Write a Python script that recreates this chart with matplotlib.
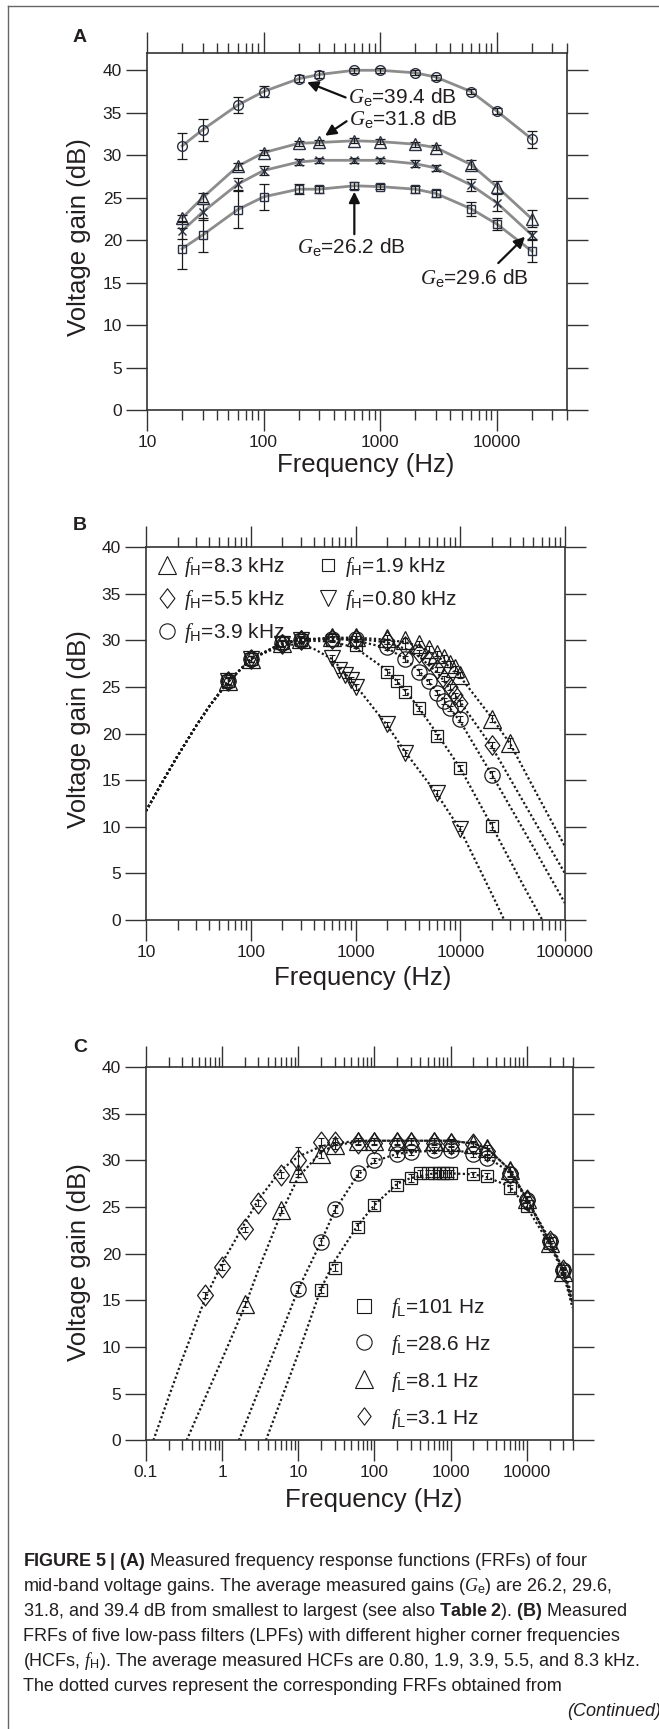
import matplotlib
matplotlib.use('Agg')
import matplotlib.pyplot as plt
from matplotlib.lines import Line2D
from matplotlib.path import Path
from matplotlib.ticker import LogLocator, NullFormatter

plt.rcParams['font.family'] = ['Liberation Sans', 'DejaVu Sans']
plt.rcParams['mathtext.fontset'] = 'custom'
plt.rcParams['mathtext.it'] = 'Liberation Serif:italic'
plt.rcParams['mathtext.rm'] = 'Liberation Sans'
plt.rcParams['mathtext.bf'] = 'Liberation Sans:bold'

# ---------------- panel A: four mid-band gains ----------------
freq_a = [20, 30, 60, 100, 200, 300, 600, 1000, 2000, 3000, 6000, 10000, 20000]
gain_394 = [31.1, 33.0, 35.9, 37.5, 39.0, 39.5, 40.0, 40.0, 39.7, 39.2, 37.5, 35.2, 31.9]
err_394 = [1.5, 1.3, 0.9, 0.7, 0.4, 0.4, 0.3, 0.3, 0.3, 0.3, 0.3, 0.4, 1.0]
gain_318 = [22.6, 25.0, 28.7, 30.3, 31.4, 31.5, 31.7, 31.6, 31.3, 30.9, 28.9, 26.3, 22.5]
err_318 = [0.4, 0.5, 0.4, 0.3, 0.3, 0.3, 0.3, 0.3, 0.3, 0.3, 0.5, 0.7, 1.0]
gain_296 = [21.1, 23.3, 26.6, 28.2, 29.2, 29.4, 29.4, 29.4, 29.0, 28.5, 26.5, 24.4, 20.6]
err_296 = [1.0, 0.9, 0.7, 0.5, 0.3, 0.3, 0.3, 0.3, 0.4, 0.4, 0.7, 1.0, 0.5]
gain_262 = [19.0, 20.6, 23.6, 25.1, 26.0, 26.0, 26.4, 26.3, 26.0, 25.5, 23.7, 21.9, 18.7]
err_262 = [2.4, 2.0, 2.2, 1.5, 0.6, 0.4, 0.4, 0.3, 0.4, 0.4, 0.8, 0.7, 1.3]

# ---------------- panel B: low-pass filters ----------------
fh83_f = [60, 100, 200, 300, 600, 1000, 2000, 3000, 4000, 5000, 6000, 7000, 8000, 9000, 10000, 20000, 30000]
fh83_g = [25.7, 28.0, 29.7, 30.2, 30.4, 30.4, 30.3, 30.0, 29.6, 29.1, 28.6, 28.1, 27.5, 27.0, 26.3, 21.6, 19.0]
fh83_e = [0.4, 0.3, 0.3, 0.3, 0.4, 0.4, 0.3, 0.3, 0.3, 0.3, 0.3, 0.3, 0.3, 0.3, 0.3, 0.4, 0.5]
fh55_f = [60, 100, 200, 300, 600, 1000, 2000, 3000, 4000, 5000, 6000, 7000, 8000, 9000, 10000, 20000]
fh55_g = [25.6, 28.0, 29.6, 30.1, 30.2, 30.2, 29.9, 29.4, 28.7, 27.8, 26.9, 25.9, 25.0, 24.1, 23.3, 18.8]
fh55_e = [0.4, 0.3, 0.3, 0.3, 0.3, 0.3, 0.3, 0.3, 0.3, 0.3, 0.3, 0.3, 0.3, 0.3, 0.3, 0.3]
fh39_f = [60, 100, 200, 300, 600, 1000, 2000, 3000, 4000, 5000, 6000, 7000, 8000, 10000, 20000]
fh39_g = [25.6, 28.0, 29.7, 30.1, 30.2, 30.2, 29.3, 28.0, 26.6, 25.6, 24.4, 23.5, 22.7, 21.6, 15.6]
fh39_e = [0.4, 0.3, 0.3, 0.3, 0.3, 0.3, 0.3, 0.3, 0.3, 0.3, 0.3, 0.3, 0.3, 0.3, 0.4]
fh19_f = [60, 100, 200, 300, 600, 1000, 2000, 2500, 3000, 4000, 6000, 10000, 20000]
fh19_g = [25.6, 28.0, 29.7, 30.1, 30.1, 29.5, 26.6, 25.6, 24.5, 22.7, 19.7, 16.3, 10.1]
fh19_e = [0.4, 0.3, 0.3, 0.3, 0.3, 0.3, 0.3, 0.3, 0.3, 0.3, 0.3, 0.3, 0.4]
fh08_f = [60, 100, 200, 300, 600, 700, 800, 900, 1000, 2000, 3000, 6000, 10000]
fh08_g = [25.6, 28.0, 29.6, 30.0, 28.1, 26.8, 26.3, 25.8, 25.0, 21.0, 17.9, 13.6, 9.8]
fh08_e = [0.4, 0.3, 0.3, 0.3, 0.3, 0.3, 0.3, 0.3, 0.3, 0.3, 0.3, 0.3, 0.3]

# model FRFs (dotted)
mb83_f = [10, 15, 20, 30, 40, 60, 100, 200, 300, 600, 1000, 2000, 3000, 4000, 6000, 10000, 20000, 30000, 50000, 100000]
mb83_g = [11.7, 15.2, 17.6, 20.8, 22.9, 25.5, 28.0, 29.7, 30.1, 30.3, 30.3, 30.1, 29.8, 29.4, 28.4, 26.1, 21.7, 18.9, 14.2, 7.9]
mb55_f = [10, 15, 20, 30, 40, 60, 100, 200, 300, 600, 1000, 2000, 3000, 4000, 6000, 10000, 20000, 50000, 100000]
mb55_g = [11.7, 15.2, 17.6, 20.8, 22.9, 25.5, 28.0, 29.7, 30.1, 30.2, 30.2, 29.8, 29.1, 28.3, 26.6, 23.4, 18.6, 10.8, 5.0]
mb39_f = [10, 15, 20, 30, 40, 60, 100, 200, 300, 600, 1000, 2000, 3000, 4000, 6000, 10000, 20000, 50000, 100000]
mb39_g = [11.7, 15.2, 17.6, 20.8, 22.9, 25.5, 28.0, 29.7, 30.1, 30.2, 30.0, 29.2, 28.0, 26.8, 24.5, 21.3, 15.6, 7.8, 1.8]
mb19_f = [10, 15, 20, 30, 40, 60, 100, 200, 300, 600, 1000, 2000, 3000, 4000, 6000, 10000, 20000, 40000, 60800]
mb19_g = [11.7, 15.2, 17.6, 20.8, 22.9, 25.5, 28.0, 29.7, 30.0, 29.9, 29.2, 26.8, 24.6, 22.8, 20.0, 16.3, 10.1, 3.7, 0.0]
mb08_f = [10, 15, 20, 30, 40, 60, 100, 200, 300, 400, 600, 1000, 2000, 3000, 6000, 10000, 20000, 26300]
mb08_g = [11.7, 15.2, 17.6, 20.8, 22.9, 25.5, 28.0, 29.5, 29.6, 29.1, 28.0, 25.2, 20.9, 18.0, 13.5, 9.7, 2.8, 0.0]

# ---------------- panel C: high-pass filters ----------------
fl31_f = [0.6, 1, 2, 3, 6, 10, 20, 30, 60, 100, 200, 300, 600, 1000, 2000, 3000, 6000, 10000, 20000, 30000]
fl31_g = [15.6, 18.6, 22.6, 25.4, 28.4, 30.0, 32.0, 32.0, 31.9, 31.9, 31.9, 31.9, 31.9, 31.8, 31.7, 31.0, 28.6, 25.8, 21.4, 18.2]
fl31_e = [0.3, 0.3, 0.3, 0.3, 0.3, 1.45, 0.4, 0.4, 0.3, 0.3, 0.3, 0.3, 0.3, 0.3, 0.3, 0.3, 0.3, 0.3, 0.3, 0.3]
fl81_f = [2, 6, 10, 20, 30, 60, 100, 200, 300, 600, 1000, 2000, 3000, 6000, 10000, 20000, 30000]
fl81_g = [14.6, 24.7, 28.6, 30.7, 31.6, 32.1, 32.1, 32.1, 32.1, 32.1, 32.0, 31.8, 31.3, 29.0, 25.9, 21.1, 18.0]
fl81_e = [0.3, 0.3, 0.4, 0.4, 0.4, 0.3, 0.3, 0.3, 0.3, 0.3, 0.3, 0.3, 0.3, 0.3, 0.3, 0.3, 0.3]
fl286_f = [10, 20, 30, 60, 100, 200, 300, 600, 1000, 2000, 3000, 6000, 10000, 20000, 30000]
fl286_g = [16.2, 21.3, 24.8, 28.6, 30.0, 30.7, 30.9, 31.1, 31.1, 30.7, 30.3, 28.5, 25.8, 21.4, 18.3]
fl286_e = [0.4, 0.4, 0.4, 0.4, 0.3, 0.3, 0.3, 0.3, 0.3, 0.3, 0.3, 0.3, 0.3, 0.3, 0.3]
fl101_f = [20, 30, 60, 100, 200, 300, 400, 500, 600, 700, 800, 900, 1000, 2000, 3000, 6000, 10000, 20000, 30000]
fl101_g = [16.1, 18.5, 22.9, 25.2, 27.4, 28.1, 28.6, 28.6, 28.6, 28.6, 28.6, 28.6, 28.6, 28.5, 28.3, 27.0, 25.1, 21.1, 18.1]
fl101_e = [0.3, 0.4, 0.4, 0.4, 0.4, 0.4, 0.4, 0.4, 0.4, 0.4, 0.4, 0.4, 0.4, 0.3, 0.3, 0.4, 0.3, 0.3, 0.3]

mc31_f = [0.125, 0.2, 0.3, 0.6, 1, 2, 3, 6, 10, 20, 30, 60, 100, 1000, 2000, 3000, 6000, 10000, 20000, 30000, 40000]
mc31_g = [0.0, 4.7, 8.7, 15.2, 19.0, 23.3, 25.8, 29.0, 30.4, 31.5, 31.8, 32.1, 32.1, 32.1, 31.8, 31.3, 29.0, 25.9, 21.5, 18.3, 15.5]
mc81_f = [0.342, 0.5, 1, 2, 3, 6, 10, 20, 30, 60, 100, 1000, 2000, 3000, 6000, 10000, 20000, 30000, 40000]
mc81_g = [0.0, 3.1, 8.7, 14.4, 18.3, 24.4, 28.2, 30.9, 31.6, 32.0, 32.1, 32.1, 31.8, 31.3, 29.0, 25.9, 21.3, 18.1, 14.9]
mc286_f = [1.66, 3, 5, 10, 20, 30, 60, 100, 200, 300, 1000, 2000, 3000, 6000, 10000, 20000, 30000, 40000]
mc286_g = [0.0, 5.3, 9.9, 16.2, 21.3, 24.6, 28.4, 29.9, 30.7, 30.9, 31.1, 30.8, 30.4, 28.7, 25.8, 21.3, 18.2, 14.7]
mc101_f = [3.76, 5, 10, 20, 30, 60, 100, 200, 300, 600, 1000, 2000, 3000, 6000, 10000, 20000, 30000, 40000]
mc101_g = [0.0, 2.7, 9.3, 16.3, 19.2, 23.0, 25.2, 27.5, 28.1, 28.6, 28.6, 28.5, 28.2, 27.2, 25.0, 21.0, 18.0, 14.2]

W, H = 659, 1729
fig = plt.figure(figsize=(W / 100, H / 100), dpi=100)
INK = '#231f20'
DIAMOND = Path([(0, 1), (0.76, 0), (0, -1), (-0.76, 0), (0, 1)], closed=True)


def px_axes(l, t, r, b):
    return fig.add_axes([l / W, 1 - b / H, (r - l) / W, (b - t) / H])


def style(ax, xlim, ylim, xticks, xlabels):
    ax.set_xscale('log')
    ax.set_xlim(*xlim)
    ax.set_ylim(*ylim)
    ax.set_xticks(xticks)
    ax.set_xticklabels(xlabels)
    ax.xaxis.set_minor_locator(LogLocator(base=10, subs=range(2, 10), numticks=30))
    ax.xaxis.set_minor_formatter(NullFormatter())
    ax.set_yticks(range(0, 41, 5))
    ax.tick_params(which='both', direction='out', top=True, right=True,
                   color='#333333', labelcolor=INK, labelsize=12.5, width=1.0)
    ax.tick_params(which='major', length=15, pad=3)
    ax.tick_params(which='minor', length=7)
    for sp in ax.spines.values():
        sp.set_linewidth(1.2)
        sp.set_color('#333333')
    for i, t in enumerate(ax.yaxis.get_major_ticks()):
        t.tick2line.set_color('#8a8a8a' if i % 2 else '#333333')
    ax.set_xlabel('Frequency (Hz)', fontsize=18.5, color=INK)
    ax.set_ylabel('Voltage gain (dB)', fontsize=18.5, color=INK)
    ax.xaxis.label.set_va('center')
    ax.yaxis.label.set_va('center')


# ---------------- A ----------------
axA = px_axes(147, 53.3, 567, 410)
style(axA, (10, 40000), (0, 42), [10, 100, 1000, 10000], ['10', '100', '1000', '10000'])
axA.xaxis.set_label_coords(0.521, -0.154)
axA.yaxis.set_label_coords(-0.162, 0.484)

for g, e, m, ms in [(gain_394, err_394, 'o', 7), (gain_318, err_318, '^', 8),
                    (gain_296, err_296, 'x', 6), (gain_262, err_262, 's', 6)]:
    axA.plot(freq_a, g, color='#8c8c8c', lw=2, zorder=2)
    axA.errorbar(freq_a, g, yerr=e, fmt='none', ecolor='#1a1a1a', elinewidth=0.9,
                 capsize=3.5, capthick=0.9, zorder=3)
    axA.plot(freq_a, g, ls='none', marker=m, ms=ms, mfc='none', mec='#2a3142', mew=1.0, zorder=4)

arrow = dict(arrowstyle='-|>', color='#111111', lw=1.6, mutation_scale=16, shrinkA=0, shrinkB=0)
ann_fs = 15
axA.annotate('', xy=(236, 38.6), xytext=(505, 36.8), arrowprops=arrow)
axA.text(530, 36.9, r'$G_\mathrm{e}$=39.4 dB', fontsize=ann_fs, va='center', ha='left', color=INK)
axA.annotate('', xy=(337, 32.3), xytext=(515, 34.0), arrowprops=arrow)
axA.text(537, 34.3, r'$G_\mathrm{e}$=31.8 dB', fontsize=ann_fs, va='center', ha='left', color=INK)
axA.annotate('', xy=(600, 25.7), xytext=(600, 20.7), arrowprops=arrow)
axA.text(562, 19.2, r'$G_\mathrm{e}$=26.2 dB', fontsize=ann_fs, va='center', ha='center', color=INK)
axA.annotate('', xy=(17460, 20.4), xytext=(10300, 17.3), arrowprops=arrow)
axA.text(2190, 15.6, r'$G_\mathrm{e}$=29.6 dB', fontsize=ann_fs, va='center', ha='left', color=INK)

# ---------------- B ----------------
axB = px_axes(146, 547.3, 565, 920)
style(axB, (10, 100000), (0, 40), [10, 100, 1000, 10000, 100000],
      ['10', '100', '1000', '10000', '100000'])
axB.xaxis.set_label_coords(0.518, -0.156)
axB.yaxis.set_label_coords(-0.16, 0.512)

dots = dict(color='#1a1a1a', lw=1.6, ls=(0, (1, 1.1)), zorder=2)
for f, g in [(mb83_f, mb83_g), (mb55_f, mb55_g), (mb39_f, mb39_g), (mb19_f, mb19_g), (mb08_f, mb08_g)]:
    axB.plot(f, g, **dots)

b_series = [(fh83_f, fh83_g, fh83_e, '^', 13, r'$f_\mathrm{H}$=8.3 kHz'),
            (fh55_f, fh55_g, fh55_e, DIAMOND, 14, r'$f_\mathrm{H}$=5.5 kHz'),
            (fh39_f, fh39_g, fh39_e, 'o', 11, r'$f_\mathrm{H}$=3.9 kHz'),
            (fh19_f, fh19_g, fh19_e, 's', 9, r'$f_\mathrm{H}$=1.9 kHz'),
            (fh08_f, fh08_g, fh08_e, 'v', 12, r'$f_\mathrm{H}$=0.80 kHz')]
handles = []
for f, g, e, m, ms, lab in b_series:
    axB.errorbar(f, g, yerr=e, fmt='none', ecolor='#1a1a1a', elinewidth=0.8,
                 capsize=2.5, capthick=0.8, zorder=3)
    axB.plot(f, g, ls='none', marker=m, ms=ms, mfc='none', mec='#1a1a1a', mew=0.9, zorder=4)
    handles.append(Line2D([], [], ls='none', marker=m, ms=ms, mfc='none', mec='#1a1a1a', mew=0.8, label=lab))
axB.legend(handles=handles, ncol=2, loc='upper left', bbox_to_anchor=(0.025, 0.978),
           frameon=False, fontsize=15, handlelength=1.0, handletextpad=0.3,
           columnspacing=1.6, labelspacing=0.42, borderpad=0, borderaxespad=0,
           labelcolor=INK)

# ---------------- C ----------------
axC = px_axes(146, 1067, 572.5, 1440.3)
style(axC, (0.1, 40000), (0, 40), [0.1, 1, 10, 100, 1000, 10000],
      ['0.1', '1', '10', '100', '1000', '10000'])
axC.xaxis.set_label_coords(0.533, -0.16)
axC.yaxis.set_label_coords(-0.157, 0.478)

for f, g in [(mc31_f, mc31_g), (mc81_f, mc81_g), (mc286_f, mc286_g), (mc101_f, mc101_g)]:
    axC.plot(f, g, **dots)

c_series = [(fl101_f, fl101_g, fl101_e, 's', 9, r'$f_\mathrm{L}$=101 Hz', 10),
            (fl286_f, fl286_g, fl286_e, 'o', 11, r'$f_\mathrm{L}$=28.6 Hz', 11),
            (fl81_f, fl81_g, fl81_e, '^', 12.5, r'$f_\mathrm{L}$=8.1 Hz', 13.5),
            (fl31_f, fl31_g, fl31_e, DIAMOND, 15, r'$f_\mathrm{L}$=3.1 Hz', 12.5)]
handles = []
for f, g, e, m, ms, lab, lms in c_series:
    axC.errorbar(f, g, yerr=e, fmt='none', ecolor='#1a1a1a', elinewidth=0.8,
                 capsize=2.5, capthick=0.8, zorder=3)
    axC.plot(f, g, ls='none', marker=m, ms=ms, mfc='none', mec='#1a1a1a', mew=0.9, zorder=4)
    handles.append(Line2D([], [], ls='none', marker=m, ms=lms, mfc='none', mec='#1a1a1a', mew=0.8, label=lab))
axC.legend(handles=handles, loc='upper left', bbox_to_anchor=(0.487, 0.387),
           frameon=False, fontsize=15, handlelength=1.0, handletextpad=0.8,
           labelspacing=0.62, borderpad=0, borderaxespad=0, labelcolor=INK)

# panel letters
for lab, y in [('A', 38), ('B', 525), ('C', 1048)]:
    fig.text(80 / W, 1 - y / H, lab, fontsize=14, fontweight='bold', ha='center', va='center', color=INK)

# page frame (left and top rules)
fig.add_artist(Line2D([8 / W, 8 / W], [0, 1 - 6 / H], transform=fig.transFigure, color='#666666', lw=1))
fig.add_artist(Line2D([8 / W, 1], [1 - 6 / H, 1 - 6 / H], transform=fig.transFigure, color='#666666', lw=1))

# caption
caption = [
    r'$\mathbf{FIGURE\ 5\ |\ (A)}$ Measured frequency response functions (FRFs) of four',
    r'mid-band voltage gains. The average measured gains ($G_\mathrm{e}$) are 26.2, 29.6,',
    r'31.8, and 39.4 dB from smallest to largest (see also $\mathbf{Table\ 2}$). $\mathbf{(B)}$ Measured',
    'FRFs of five low-pass filters (LPFs) with different higher corner frequencies',
    r'(HCFs, $f_\mathrm{H}$). The average measured HCFs are 0.80, 1.9, 3.9, 5.5, and 8.3 kHz.',
    'The dotted curves represent the corresponding FRFs obtained from',
]
cap_fs = 13.0
for i, line in enumerate(caption):
    fig.text(23 / W, 1 - (1566 + 25 * i) / H, line, fontsize=cap_fs, va='baseline', ha='left', color=INK)
fig.text(661 / W, 1 - 1716 / H, '(Continued)', fontsize=cap_fs, style='italic',
         va='baseline', ha='right', color=INK)

fig.savefig('out.png', dpi=100)
